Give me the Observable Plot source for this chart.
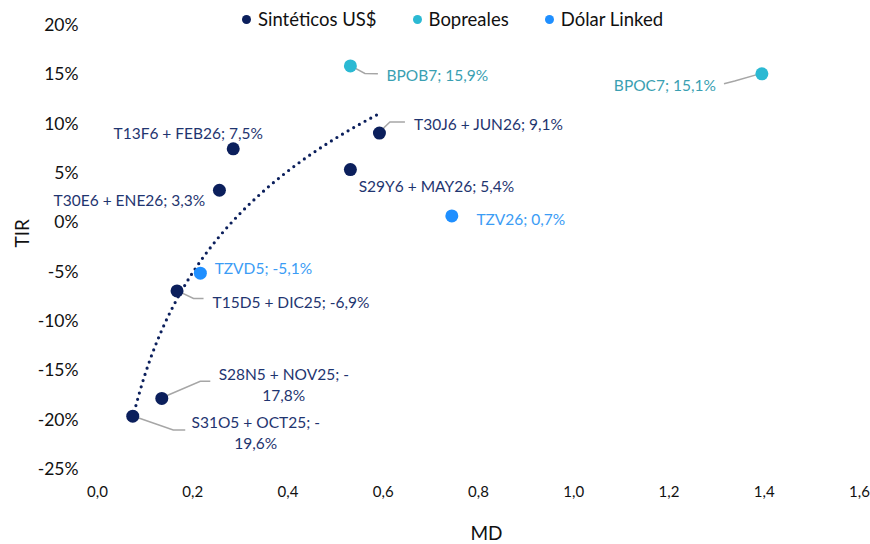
<!DOCTYPE html>
<html><head><meta charset="utf-8">
<script src="https://cdn.jsdelivr.net/npm/d3@7"></script>
<script src="https://cdn.jsdelivr.net/npm/@observablehq/plot@0.6"></script>
<style>
body{margin:0;background:#fff;font-family:Lato,"Open Sans",sans-serif}
#wrap{position:relative;width:870px;height:544px}
#legend{position:absolute;top:8px;left:242px;display:flex;gap:36px;font-size:18.5px;color:#111;line-height:22px}
.item{display:flex;align-items:center;gap:7px}
.dot{width:9px;height:9px;border-radius:50%;display:inline-block}
</style></head><body><div id="wrap"><div id="legend"></div></div>
<script>
// ---- data ----
const seriesNames = ["Sintéticos US$", "Bopreales", "Dólar Linked"];
const names = ["T13F6 + FEB26", "T30E6 + ENE26", "T30J6 + JUN26", "S29Y6 + MAY26", "T15D5 + DIC25", "S28N5 + NOV25", "S31O5 + OCT25", "BPOB7", "BPOC7", "TZV26", "TZVD5"];
const md  = [0.285, 0.256, 0.592, 0.531, 0.167, 0.135, 0.074, 0.531, 1.395, 0.744, 0.216];
const tir = [7.5, 3.3, 9.1, 5.4, -6.9, -17.8, -19.6, 15.9, 15.1, 0.7, -5.1];
const group = ["Sintéticos US$", "Sintéticos US$", "Sintéticos US$", "Sintéticos US$", "Sintéticos US$", "Sintéticos US$", "Sintéticos US$", "Bopreales", "Bopreales", "Dólar Linked", "Dólar Linked"];
const xTicks = [0, 0.2, 0.4, 0.6, 0.8, 1.0, 1.2, 1.4, 1.6];
const yTicks = [-25, -20, -15, -10, -5, 0, 5, 10, 15, 20];

// ---- style / layout ----
const pointColor = {"Sintéticos US$": "#0b1f5c", "Bopreales": "#2bb9d3", "Dólar Linked": "#1f8fff"};
const textColor  = {"Sintéticos US$": "#1f3570", "Bopreales": "#3a9fb2", "Dólar Linked": "#3b9cf5"};
// label offsets (px) from point, optional leader polyline (px offsets), wrap flag
const layout = {
  "T13F6 + FEB26": {dx: -45, dy: -17},
  "T30E6 + ENE26": {dx: -90, dy: 9},
  "T30J6 + JUN26": {dx: 109, dy: -10, lead: [[11, -10.6], [26, -10.6]]},
  "S29Y6 + MAY26": {dx: 86, dy: 16},
  "T15D5 + DIC25": {dx: 114, dy: 10, lead: [[17, 8], [27, 8]]},
  "S28N5 + NOV25": {dx: 122, dy: -15, lead: [[39, -16.6], [49, -16.6]], wrap: true},
  "S31O5 + OCT25": {dx: 123, dy: 16, lead: [[41, 14.3], [53, 14.3]], wrap: true},
  "BPOB7": {dx: 87, dy: 8.5, lead: [[15, 8], [28, 8.3]]},
  "BPOC7": {dx: -97, dy: 10, lead: [[-26.7, 7.7], [-37.4, 10.4]]},
  "TZV26": {dx: 69, dy: 2},
  "TZVD5": {dx: 63, dy: -6}
};

const data = names.map((n, i) => ({name: n, md: md[i], tir: tir[i], group: group[i]}));
const fmt = v => String(v.toFixed(1)).replace(".", ",") + "%";
data.forEach(d => {
  const L = layout[d.name];
  d.label = L.wrap ? `${d.name}; ${d.tir < 0 ? "-" : ""}\n${fmt(Math.abs(d.tir))}` : `${d.name}; ${fmt(d.tir)}`;
});

// logarithmic trendline for Sintéticos (least squares on ln(x))
const syn = data.filter(d => d.group === "Sintéticos US$");
const lx = syn.map(d => Math.log(d.md)), ly = syn.map(d => d.tir);
const mx = d3.mean(lx), my = d3.mean(ly);
const a = d3.sum(lx.map((v, i) => (v - mx) * (ly[i] - my))) / d3.sum(lx.map(v => (v - mx) ** 2));
const b = my - a * mx;
const [x0, x1] = d3.extent(syn, d => d.md);
const trend = d3.range(0, 81).map(k => { const x = x0 + (x1 - x0) * k / 80; return {md: x, tir: a * Math.log(x) + b}; });

// leader lines as a render mark using scales
const leaders = (index, scales) => {
  const g = d3.create("svg:g");
  data.forEach(d => {
    const L = layout[d.name];
    if (!L.lead) return;
    const px = scales.x(d.md), py = scales.y(d.tir);
    const pts = [[px, py], ...L.lead.map(([u, v]) => [px + u, py + v])];
    g.append("path").attr("d", d3.line()(pts)).attr("fill", "none").attr("stroke", "#a6a6a6").attr("stroke-width", 1.5);
  });
  return g.node();
};

const labelMarks = data.map(d => Plot.text([d], {
  x: "md", y: "tir", text: "label", dx: layout[d.name].dx, dy: layout[d.name].dy,
  fill: textColor[d.group], fontSize: 15.5, lineHeight: 1.35, textAnchor: "middle"
}));

const chart = Plot.plot({
  width: 870, height: 544,
  marginLeft: 97, marginRight: 11, marginTop: 25, marginBottom: 75,
  style: {fontFamily: "Lato, 'Open Sans', sans-serif", background: "white"},
  x: {domain: [0, 1.6]},
  y: {domain: [-25, 20]},
  marks: [
    Plot.axisY(yTicks, {tickFormat: d => `${d}%`, tickSize: 0, tickPadding: 19, fontSize: 17.5, fill: "#111", label: null}),
    Plot.axisX(xTicks, {tickFormat: d => d.toFixed(1).replace(".", ","), tickSize: 0, tickPadding: 17, fontSize: 15, fill: "#111", label: null}),
    Plot.text(["MD"], {frameAnchor: "bottom", dx: 8, dy: 70, fontSize: 19, fill: "#111"}),
    Plot.text(["TIR"], {frameAnchor: "left", dx: -75, rotate: -90, fontSize: 19, fill: "#111"}),
    Plot.line(trend, {x: "md", y: "tir", stroke: "#0b1f5c", strokeWidth: 3.2, strokeDasharray: "0,6.5", strokeLinecap: "round"}),
    leaders,
    Plot.dot(data, {x: "md", y: "tir", r: 6.5, fill: d => pointColor[d.group], stroke: null}),
    ...labelMarks
  ]
});
document.getElementById("wrap").prepend(chart);
chart.style.position = "absolute"; chart.style.left = "0"; chart.style.top = "0";

const legend = document.getElementById("legend");
legend.style.zIndex = 2;
seriesNames.forEach(s => {
  const it = document.createElement("div"); it.className = "item";
  const dot = document.createElement("span"); dot.className = "dot"; dot.style.background = pointColor[s];
  const t = document.createElement("span"); t.textContent = s;
  it.append(dot, t); legend.append(it);
});
</script></body></html>
